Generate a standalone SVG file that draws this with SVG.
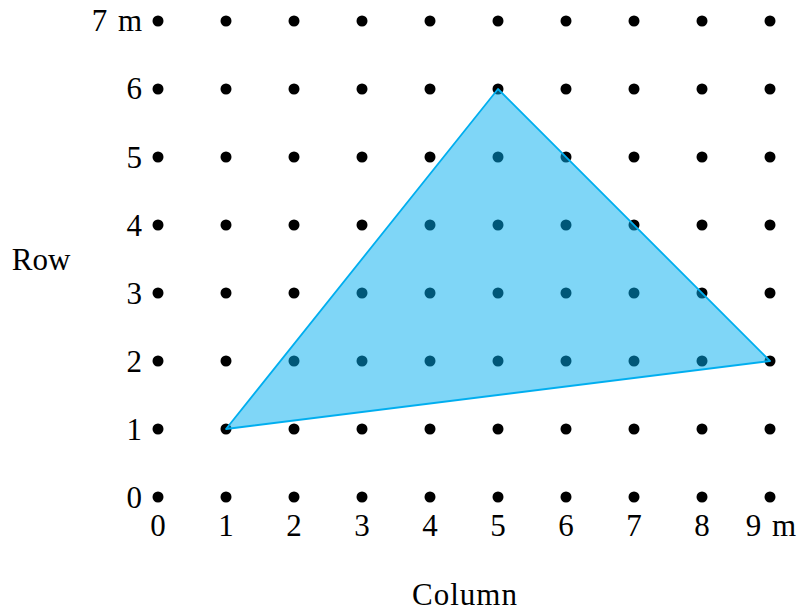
<svg xmlns="http://www.w3.org/2000/svg" width="799" height="611" viewBox="0 0 799 611">
<style>
text{font-family:"Liberation Serif","DejaVu Serif",serif;font-size:31px;fill:#000}
.yl{text-anchor:end}
.xl{text-anchor:middle}
.d{fill:#000}
</style>
<defs><circle id="p" r="5.5" class="d"/></defs>
<rect width="799" height="611" fill="#fff"/>
<g id="dots">
<g id="row0"><use href="#p" x="158" y="497"/><use href="#p" x="226" y="497"/><use href="#p" x="294" y="497"/><use href="#p" x="362" y="497"/><use href="#p" x="430" y="497"/><use href="#p" x="498" y="497"/><use href="#p" x="566" y="497"/><use href="#p" x="634" y="497"/><use href="#p" x="702" y="497"/><use href="#p" x="770" y="497"/></g>
<g id="row1"><use href="#p" x="158" y="429"/><use href="#p" x="226" y="429"/><use href="#p" x="294" y="429"/><use href="#p" x="362" y="429"/><use href="#p" x="430" y="429"/><use href="#p" x="498" y="429"/><use href="#p" x="566" y="429"/><use href="#p" x="634" y="429"/><use href="#p" x="702" y="429"/><use href="#p" x="770" y="429"/></g>
<g id="row2"><use href="#p" x="158" y="361"/><use href="#p" x="226" y="361"/><use href="#p" x="294" y="361"/><use href="#p" x="362" y="361"/><use href="#p" x="430" y="361"/><use href="#p" x="498" y="361"/><use href="#p" x="566" y="361"/><use href="#p" x="634" y="361"/><use href="#p" x="702" y="361"/><use href="#p" x="770" y="361"/></g>
<g id="row3"><use href="#p" x="158" y="293"/><use href="#p" x="226" y="293"/><use href="#p" x="294" y="293"/><use href="#p" x="362" y="293"/><use href="#p" x="430" y="293"/><use href="#p" x="498" y="293"/><use href="#p" x="566" y="293"/><use href="#p" x="634" y="293"/><use href="#p" x="702" y="293"/><use href="#p" x="770" y="293"/></g>
<g id="row4"><use href="#p" x="158" y="225"/><use href="#p" x="226" y="225"/><use href="#p" x="294" y="225"/><use href="#p" x="362" y="225"/><use href="#p" x="430" y="225"/><use href="#p" x="498" y="225"/><use href="#p" x="566" y="225"/><use href="#p" x="634" y="225"/><use href="#p" x="702" y="225"/><use href="#p" x="770" y="225"/></g>
<g id="row5"><use href="#p" x="158" y="157"/><use href="#p" x="226" y="157"/><use href="#p" x="294" y="157"/><use href="#p" x="362" y="157"/><use href="#p" x="430" y="157"/><use href="#p" x="498" y="157"/><use href="#p" x="566" y="157"/><use href="#p" x="634" y="157"/><use href="#p" x="702" y="157"/><use href="#p" x="770" y="157"/></g>
<g id="row6"><use href="#p" x="158" y="89"/><use href="#p" x="226" y="89"/><use href="#p" x="294" y="89"/><use href="#p" x="362" y="89"/><use href="#p" x="430" y="89"/><use href="#p" x="498" y="89"/><use href="#p" x="566" y="89"/><use href="#p" x="634" y="89"/><use href="#p" x="702" y="89"/><use href="#p" x="770" y="89"/></g>
<g id="row7"><use href="#p" x="158" y="21"/><use href="#p" x="226" y="21"/><use href="#p" x="294" y="21"/><use href="#p" x="362" y="21"/><use href="#p" x="430" y="21"/><use href="#p" x="498" y="21"/><use href="#p" x="566" y="21"/><use href="#p" x="634" y="21"/><use href="#p" x="702" y="21"/><use href="#p" x="770" y="21"/></g>
</g>
<g id="triangle">
<polygon points="226,429 498,89 770,361" fill="#00AEEF" fill-opacity="0.5" stroke="#00AEEF" stroke-width="1.8" stroke-linejoin="round"/>
</g>
<g id="ylabels">
<text class="yl" x="142" y="508">0</text>
<text class="yl" x="142" y="440">1</text>
<text class="yl" x="142" y="372">2</text>
<text class="yl" x="142" y="304">3</text>
<text class="yl" x="142" y="236">4</text>
<text class="yl" x="142" y="168">5</text>
<text class="yl" x="142" y="99">6</text>
<text class="yl" x="142" y="31" word-spacing="3">7 m</text>
</g>
<g id="xlabels">
<text class="xl" x="158" y="536">0</text>
<text class="xl" x="226" y="536">1</text>
<text class="xl" x="294" y="536">2</text>
<text class="xl" x="362" y="536">3</text>
<text class="xl" x="430" y="536">4</text>
<text class="xl" x="498" y="536">5</text>
<text class="xl" x="566" y="536">6</text>
<text class="xl" x="634" y="536">7</text>
<text class="xl" x="702" y="536">8</text>
<text class="xl" x="771" y="536" word-spacing="3">9 m</text>
</g>
<text x="41" y="270" class="xl">Row</text>
<text x="465" y="605" class="xl" letter-spacing="1">Column</text>
</svg>
